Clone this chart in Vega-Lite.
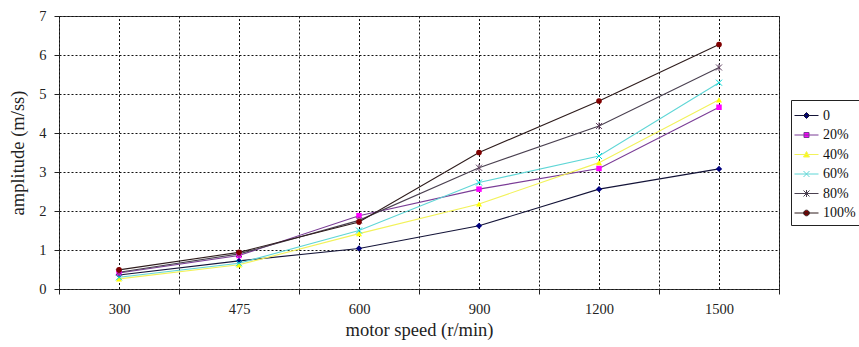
{
  "$schema": "https://vega.github.io/schema/vega-lite/v6.json",
  "width": 720,
  "height": 273,
  "autosize": "none",
  "padding": {"left": 59, "top": 16, "right": 80, "bottom": 58},
  "background": "white",
  "config": {
    "view": {"stroke": "#404040", "strokeWidth": 1},
    "font": "Liberation Serif"
  },
  "data": {
    "values": [
      {"series": "0", "speed": "300", "value": 0.36},
      {"series": "0", "speed": "475", "value": 0.72},
      {"series": "0", "speed": "600", "value": 1.04},
      {"series": "0", "speed": "900", "value": 1.62},
      {"series": "0", "speed": "1200", "value": 2.56},
      {"series": "0", "speed": "1500", "value": 3.08},
      {"series": "20%", "speed": "300", "value": 0.41},
      {"series": "20%", "speed": "475", "value": 0.86},
      {"series": "20%", "speed": "600", "value": 1.88},
      {"series": "20%", "speed": "900", "value": 2.56},
      {"series": "20%", "speed": "1200", "value": 3.09},
      {"series": "20%", "speed": "1500", "value": 4.66},
      {"series": "40%", "speed": "300", "value": 0.26},
      {"series": "40%", "speed": "475", "value": 0.62},
      {"series": "40%", "speed": "600", "value": 1.42},
      {"series": "40%", "speed": "900", "value": 2.18},
      {"series": "40%", "speed": "1200", "value": 3.24},
      {"series": "40%", "speed": "1500", "value": 4.85},
      {"series": "60%", "speed": "300", "value": 0.30},
      {"series": "60%", "speed": "475", "value": 0.66},
      {"series": "60%", "speed": "600", "value": 1.50},
      {"series": "60%", "speed": "900", "value": 2.73},
      {"series": "60%", "speed": "1200", "value": 3.41},
      {"series": "60%", "speed": "1500", "value": 5.29},
      {"series": "80%", "speed": "300", "value": 0.43},
      {"series": "80%", "speed": "475", "value": 0.90},
      {"series": "80%", "speed": "600", "value": 1.76},
      {"series": "80%", "speed": "900", "value": 3.11},
      {"series": "80%", "speed": "1200", "value": 4.18},
      {"series": "80%", "speed": "1500", "value": 5.68},
      {"series": "100%", "speed": "300", "value": 0.49},
      {"series": "100%", "speed": "475", "value": 0.94},
      {"series": "100%", "speed": "600", "value": 1.72},
      {"series": "100%", "speed": "900", "value": 3.50},
      {"series": "100%", "speed": "1200", "value": 4.82},
      {"series": "100%", "speed": "1500", "value": 6.27}
    ]
  },
  "encoding": {
    "x": {
      "field": "speed",
      "type": "nominal",
      "sort": ["300", "475", "600", "900", "1200", "1500"],
      "scale": {"paddingInner": 0, "paddingOuter": 0},
      "axis": {
        "title": "motor speed (r/min)",
        "titleFont": "Liberation Serif",
        "titleFontSize": 18.5,
        "titleFontWeight": "normal",
        "titleColor": "#222",
        "titlePadding": 5,
        "labelFont": "Liberation Serif",
        "labelFontSize": 14.5,
        "labelColor": "#222",
        "labelAngle": 0,
        "labelPadding": 8,
        "tickBand": "extent",
        "ticks": true,
        "tickSize": 5,
        "tickColor": "#222",
        "domain": false,
        "grid": true,
        "gridColor": "#111",
        "gridDash": [2, 2],
        "gridOpacity": 1,
        "gridWidth": 1
      }
    },
    "y": {
      "field": "value",
      "type": "quantitative",
      "scale": {"domain": [0, 7], "nice": false},
      "axis": {
        "title": "amplitude (m/ss)",
        "values": [0, 1, 2, 3, 4, 5, 6, 7],
        "titleFont": "Liberation Serif",
        "titleFontSize": 18.5,
        "titleFontWeight": "normal",
        "titleColor": "#222",
        "titlePadding": 11,
        "labelFont": "Liberation Serif",
        "labelFontSize": 14.5,
        "labelColor": "#222",
        "labelPadding": 8,
        "tickSize": 5,
        "tickColor": "#222",
        "domain": false,
        "grid": true,
        "gridColor": "#111",
        "gridDash": [2, 2],
        "gridOpacity": 1
      }
    }
  },
  "layer": [
    {
      "transform": [{"filter": "datum.series === '0'"}],
      "mark": {"type": "rule", "color": "#111", "strokeDash": [2, 2], "strokeWidth": 1, "xOffset": 0.5},
      "encoding": {"y": {"datum": 0}, "y2": {"datum": 7}}
    },
    {
      "mark": {"type": "line", "strokeWidth": 1.1},
      "encoding": {
        "stroke": {
          "field": "series",
          "type": "nominal",
          "scale": {
            "domain": ["0", "20%", "40%", "60%", "80%", "100%"],
            "range": ["#141438", "#7a3c96", "#f2f25a", "#5fd6d6", "#4a4050", "#2e1c1c"]
          },
          "legend": {
            "title": null,
            "orient": "none",
            "legendX": 732,
            "legendY": 84,
            "direction": "vertical",
            "strokeColor": "#222",
            "fillColor": "white",
            "padding": 5,
            "rowPadding": 1.5,
            "symbolSize": 400,
            "symbolStrokeWidth": 1,
            "labelFont": "Liberation Serif",
            "labelFontSize": 14,
            "labelColor": "#111",
            "labelOffset": 6,
            "encode": {
              "symbols": {
                "update": {
                  "shape": {
                    "signal": "datum.value === '0' ? 'M-1.2,0H1.2M0,-0.3L0.3,0L0,0.3L-0.3,0Z' : datum.value === '20%' ? 'M-1.2,0H1.2M-0.25,-0.25H0.25V0.25H-0.25Z' : datum.value === '40%' ? 'M-1.2,0H1.2M0,-0.3L0.3,0.25L-0.3,0.25Z' : datum.value === '60%' ? 'M-1.2,0H1.2M-0.3,-0.3L0.3,0.3M-0.3,0.3L0.3,-0.3' : datum.value === '80%' ? 'M-1.2,0H1.2M-0.3,-0.3L0.3,0.3M-0.3,0.3L0.3,-0.3M0,-0.35V0.35' : 'M-1.2,0H1.2M0.28,0A0.28,0.28,0,1,1,-0.28,0A0.28,0.28,0,1,1,0.28,0Z'"
                  },
                  "fill": {
                    "signal": "datum.value === '0' ? '#000080' : datum.value === '20%' ? '#ff00ff' : datum.value === '40%' ? '#ffff00' : datum.value === '60%' ? '#00ffff' : datum.value === '80%' ? '#604060' : '#800000'"
                  },
                  "strokeWidth": {"value": 1}
                }
              }
            }
          }
        }
      }
    },
    {
      "transform": [{"filter": "datum.series === '0'"}],
      "mark": {"type": "point", "filled": true, "shape": "diamond", "fill": "#000080", "size": 40, "strokeWidth": 0, "opacity": 1}
    },
    {
      "transform": [{"filter": "datum.series === '20%'"}],
      "mark": {"type": "point", "filled": true, "shape": "square", "fill": "#ff00ff", "size": 30, "strokeWidth": 0, "opacity": 1}
    },
    {
      "transform": [{"filter": "datum.series === '40%'"}],
      "mark": {"type": "point", "filled": true, "shape": "triangle-up", "fill": "#ffff00", "size": 36, "strokeWidth": 0, "opacity": 1}
    },
    {
      "transform": [{"filter": "datum.series === '60%'"}],
      "mark": {"type": "point", "filled": false, "shape": "M-1,-1L1,1M-1,1L1,-1", "stroke": "#00d8d8", "size": 36, "strokeWidth": 1, "opacity": 1}
    },
    {
      "transform": [{"filter": "datum.series === '80%'"}],
      "mark": {"type": "point", "filled": false, "shape": "M-1,-1L1,1M-1,1L1,-1M0,-1.2V1.2", "stroke": "#604060", "size": 36, "strokeWidth": 1, "opacity": 1}
    },
    {
      "transform": [{"filter": "datum.series === '100%'"}],
      "mark": {"type": "point", "filled": true, "shape": "circle", "fill": "#800000", "size": 32, "strokeWidth": 0, "opacity": 1}
    }
  ]
}
